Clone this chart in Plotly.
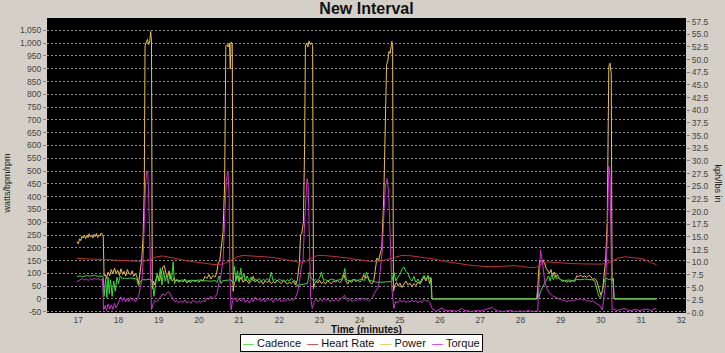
import plotly.graph_objects as go

# ---------------- data (time in minutes, value) ----------------
power_samples = [
    (16.96, 224), (17.00, 215), (17.03, 235), (17.06, 228), (17.09, 245), (17.12, 238), (17.15, 250),
    (17.18, 236), (17.21, 248), (17.24, 240), (17.27, 255), (17.30, 242), (17.33, 250), (17.36, 238),
    (17.39, 252), (17.42, 244), (17.45, 256), (17.48, 240), (17.51, 250), (17.54, 246), (17.57, 258),
    (17.60, 250), (17.62, 245), (17.64, 90), (17.67, 95), (17.70, 80), (17.74, 105), (17.78, 90),
    (17.82, 115), (17.86, 98), (17.90, 120), (17.94, 100), (17.98, 112), (18.02, 92), (18.06, 118),
    (18.10, 96), (18.14, 108), (18.18, 90), (18.22, 115), (18.26, 100), (18.30, 95), (18.34, 110),
    (18.38, 88), (18.42, 100), (18.46, 85), (18.50, 60), (18.54, 110), (18.58, 160), (18.61, 240),
    (18.64, 420), (18.66, 990), (18.69, 1000), (18.72, 1015), (18.75, 995), (18.78, 1010), (18.80, 1046),
    (18.82, 1005), (18.84, 40), (18.87, 70), (18.90, 55), (18.94, 80), (18.98, 90), (19.02, 70),
    (19.06, 95), (19.10, 125), (19.14, 130), (19.18, 100), (19.22, 85), (19.26, 110), (19.30, 78),
    (19.34, 70), (19.38, 82), (19.42, 68), (19.46, 75), (19.50, 65), (19.55, 72), (19.60, 66),
    (19.65, 78), (19.70, 62), (19.75, 70), (19.80, 64), (19.85, 74), (19.90, 68), (19.95, 72),
    (20.00, 65), (20.05, 76), (20.10, 70), (20.15, 88), (20.20, 80), (20.25, 95), (20.30, 78),
    (20.35, 92), (20.40, 85), (20.44, 100), (20.48, 140), (20.52, 150), (20.55, 200), (20.60, 260),
    (20.64, 450), (20.67, 990), (20.70, 995), (20.73, 985), (20.76, 1000), (20.78, 900), (20.80, 1005),
    (20.83, 1000), (20.85, 30), (20.88, 60), (20.92, 75), (20.96, 90), (21.00, 70), (21.05, 85),
    (21.10, 65), (21.15, 78), (21.20, 70), (21.25, 60), (21.30, 72), (21.35, 88), (21.40, 66),
    (21.45, 75), (21.50, 62), (21.55, 70), (21.60, 58), (21.65, 72), (21.70, 64), (21.75, 70),
    (21.80, 60), (21.85, 68), (21.90, 62), (21.95, 74), (22.00, 66), (22.05, 60), (22.10, 72),
    (22.15, 64), (22.20, 58), (22.25, 66), (22.30, 60), (22.35, 70), (22.40, 55), (22.45, 75),
    (22.50, 140), (22.53, 250), (22.56, 257), (22.60, 300), (22.63, 600), (22.65, 990), (22.68, 1000),
    (22.71, 985), (22.74, 1008), (22.77, 995), (22.80, 1002), (22.83, 990), (22.85, 40), (22.88, 60),
    (22.92, 70), (22.96, 62), (23.00, 74), (23.05, 60), (23.10, 68), (23.15, 58), (23.20, 72),
    (23.25, 64), (23.30, 60), (23.35, 70), (23.40, 66), (23.45, 72), (23.50, 64), (23.55, 70),
    (23.60, 100), (23.65, 72), (23.70, 58), (23.75, 72), (23.80, 64), (23.85, 78), (23.90, 68),
    (23.95, 74), (24.00, 66), (24.05, 72), (24.10, 95), (24.15, 80), (24.20, 90), (24.25, 66),
    (24.30, 58), (24.35, 70), (24.40, 120), (24.43, 160), (24.47, 150), (24.50, 170), (24.55, 200),
    (24.60, 400), (24.64, 700), (24.67, 916), (24.70, 930), (24.73, 968), (24.76, 960), (24.80, 1007),
    (24.82, 990), (24.84, 30), (24.88, 55), (24.92, 65), (24.96, 50), (25.00, 62), (25.05, 45),
    (25.10, 58), (25.15, 70), (25.20, 55), (25.25, 62), (25.30, 48), (25.35, 60), (25.40, 52),
    (25.45, 66), (25.50, 58), (25.55, 72), (25.60, 85), (25.65, 70), (25.70, 92), (25.74, 60),
    (25.78, 80), (25.80, 0), (26.50, 0), (27.00, 0), (27.50, 0), (28.00, 0), (28.42, 0),
    (28.45, 100), (28.48, 150), (28.52, 145), (28.56, 152), (28.60, 140), (28.64, 120), (28.68, 110),
    (28.72, 100), (28.76, 115), (28.80, 90), (28.84, 105), (28.88, 85), (28.92, 95), (28.96, 80),
    (29.00, 75), (29.05, 68), (29.10, 72), (29.15, 65), (29.20, 70), (29.25, 66), (29.30, 72),
    (29.35, 68), (29.40, 90), (29.45, 88), (29.50, 92), (29.55, 86), (29.60, 90), (29.65, 84),
    (29.70, 92), (29.75, 88), (29.80, 76), (29.85, 80), (29.90, 70), (29.95, 40), (30.00, 15),
    (30.04, 30), (30.08, 80), (30.12, 150), (30.16, 300), (30.20, 910), (30.23, 922), (30.26, 880),
    (30.28, 70), (30.31, 80), (30.33, 0), (31.39, 0),
]

cadence_samples = [
    (16.96, 88), (17.05, 90), (17.10, 87), (17.20, 91), (17.30, 89), (17.40, 92), (17.50, 88),
    (17.58, 90), (17.62, 85), (17.64, 10), (17.68, 80), (17.71, 5), (17.74, 85), (17.77, 20),
    (17.80, 75), (17.84, 10), (17.88, 70), (17.92, 30), (17.96, 85), (18.00, 60), (18.04, 90),
    (18.10, 78), (18.15, 82), (18.20, 80), (18.30, 82), (18.40, 80), (18.45, 78), (18.50, 50),
    (18.55, 70), (18.60, 75), (18.70, 75), (18.80, 78), (18.85, 60), (18.88, 10), (18.92, 60),
    (18.96, 100), (19.00, 70), (19.04, 120), (19.08, 55), (19.12, 110), (19.16, 70), (19.20, 90),
    (19.24, 60), (19.28, 100), (19.32, 75), (19.36, 145), (19.39, 60), (19.43, 75), (19.50, 72),
    (19.60, 74), (19.70, 70), (19.80, 73), (19.90, 72), (20.00, 74), (20.10, 70), (20.20, 71),
    (20.30, 69), (20.40, 72), (20.45, 65), (20.50, 90), (20.55, 60), (20.60, 72), (20.70, 73),
    (20.80, 75), (20.85, 60), (20.88, 128), (20.92, 70), (20.96, 110), (21.00, 65), (21.04, 120),
    (21.08, 80), (21.12, 100), (21.16, 70), (21.20, 90), (21.25, 68), (21.30, 85), (21.35, 70),
    (21.40, 78), (21.45, 72), (21.50, 80), (21.55, 70), (21.60, 76), (21.65, 72), (21.70, 80),
    (21.75, 70), (21.80, 105), (21.84, 72), (21.90, 76), (21.95, 70), (22.00, 78), (22.05, 72),
    (22.10, 74), (22.15, 68), (22.20, 76), (22.25, 70), (22.30, 80), (22.35, 72), (22.40, 70),
    (22.45, 50), (22.50, 55), (22.60, 58), (22.70, 60), (22.75, 106), (22.80, 80), (22.85, 70),
    (22.90, 76), (22.95, 72), (23.00, 80), (23.05, 106), (23.10, 72), (23.15, 76), (23.20, 70),
    (23.30, 78), (23.40, 72), (23.50, 75), (23.58, 80), (23.63, 119), (23.67, 74), (23.75, 70),
    (23.85, 76), (23.95, 72), (24.05, 78), (24.12, 72), (24.17, 105), (24.22, 74), (24.30, 70),
    (24.40, 66), (24.50, 65), (24.60, 66), (24.70, 67), (24.80, 68), (24.85, 106), (24.90, 70),
    (24.95, 85), (25.00, 95), (25.05, 115), (25.10, 125), (25.15, 108), (25.20, 100), (25.25, 80),
    (25.30, 70), (25.35, 88), (25.40, 65), (25.45, 78), (25.50, 62), (25.55, 80), (25.60, 92),
    (25.65, 75), (25.70, 90), (25.74, 78), (25.77, 85), (25.79, 0), (26.50, 0), (27.00, 0),
    (27.50, 0), (28.00, 0), (28.40, 0), (28.43, 40), (28.46, 5), (28.50, 30), (28.55, 45),
    (28.60, 60), (28.65, 75), (28.70, 90), (28.74, 70), (28.78, 95), (28.82, 75), (28.86, 92),
    (28.90, 78), (28.95, 85), (29.00, 75), (29.10, 72), (29.20, 74), (29.30, 72), (29.40, 76),
    (29.50, 75), (29.60, 78), (29.70, 76), (29.80, 74), (29.85, 70), (29.90, 40), (29.95, 10),
    (30.00, 5), (30.05, 40), (30.10, 78), (30.15, 80), (30.20, 75), (30.25, 78), (30.30, 75),
    (30.33, 0), (31.39, 0),
]

heart_rate_samples = [
    (16.96, 158), (17.10, 158), (17.30, 156), (17.50, 155), (17.70, 153), (17.90, 151), (18.10, 150),
    (18.30, 149), (18.50, 147), (18.65, 148), (18.80, 155), (18.95, 165), (19.10, 168), (19.30, 163),
    (19.50, 156), (19.70, 149), (19.90, 144), (20.10, 140), (20.30, 136), (20.45, 134), (20.60, 137),
    (20.80, 150), (20.95, 165), (21.10, 170), (21.30, 169), (21.50, 166), (21.70, 164), (21.90, 161),
    (22.10, 155), (22.30, 148), (22.50, 143), (22.65, 146), (22.80, 160), (22.95, 170), (23.10, 170),
    (23.30, 167), (23.50, 164), (23.70, 160), (23.90, 155), (24.10, 150), (24.34, 146), (24.55, 149),
    (24.75, 158), (24.90, 166), (25.05, 170), (25.25, 169), (25.45, 165), (25.65, 162), (25.85, 156),
    (26.05, 149), (26.25, 143), (26.45, 138), (26.65, 134), (26.85, 130), (27.05, 127), (27.25, 126),
    (27.45, 127), (27.65, 129), (27.85, 130), (28.05, 127), (28.25, 122), (28.40, 124), (28.55, 140),
    (28.65, 145), (28.85, 142), (29.05, 139), (29.30, 138), (29.55, 137), (29.80, 135), (30.00, 136),
    (30.15, 139), (30.30, 148), (30.45, 160), (30.60, 165), (30.80, 162), (31.00, 158), (31.15, 150),
    (31.30, 140), (31.39, 133),
]

# torque is read against the right-hand (kph / lbs in) axis
torque_samples = [
    (16.96, 6.15), (17.00, 6.3), (17.05, 6.6), (17.10, 6.8), (17.15, 6.5), (17.20, 6.7), (17.25, 6.4),
    (17.30, 6.8), (17.35, 6.5), (17.40, 6.9), (17.45, 6.6), (17.50, 6.8), (17.55, 6.5), (17.60, 6.7),
    (17.63, 0.6), (17.67, 1.5), (17.70, 0.5), (17.74, 1.8), (17.78, 0.8), (17.82, 1.6), (17.86, 0.7),
    (17.90, 1.9), (17.94, 1.0), (17.98, 1.7), (18.02, 2.2), (18.06, 3.2), (18.10, 2.4), (18.14, 3.0),
    (18.18, 2.2), (18.22, 2.9), (18.26, 2.3), (18.30, 3.1), (18.34, 2.5), (18.38, 2.8), (18.42, 2.2),
    (18.46, 2.9), (18.50, 3.3), (18.54, 5.0), (18.58, 6.3), (18.61, 10.0), (18.64, 18.4), (18.67, 25.0),
    (18.70, 28.0), (18.73, 27.5), (18.76, 20.0), (18.79, 8.0), (18.82, 0.6), (18.86, 1.8), (18.90, 2.5),
    (18.95, 2.2), (19.00, 2.8), (19.05, 3.3), (19.10, 3.8), (19.15, 3.4), (19.20, 4.0), (19.25, 4.2),
    (19.30, 3.5), (19.35, 2.6), (19.40, 2.2), (19.45, 2.5), (19.50, 2.0), (19.55, 2.4), (19.60, 2.1),
    (19.65, 2.6), (19.70, 2.0), (19.75, 2.3), (19.80, 1.9), (19.85, 2.5), (19.90, 2.2), (19.95, 2.0),
    (20.00, 2.4), (20.05, 2.1), (20.10, 2.5), (20.15, 2.2), (20.20, 3.0), (20.25, 2.7), (20.30, 3.3),
    (20.35, 2.8), (20.40, 3.2), (20.45, 3.8), (20.50, 6.0), (20.55, 7.5), (20.60, 10.5), (20.64, 18.0),
    (20.68, 26.0), (20.72, 28.0), (20.75, 24.0), (20.77, 8.0), (20.80, 0.6), (20.84, 2.5), (20.90, 3.0),
    (20.95, 2.2), (21.00, 2.8), (21.05, 2.3), (21.10, 3.0), (21.15, 2.1), (21.20, 2.6), (21.25, 2.0),
    (21.30, 2.7), (21.35, 2.3), (21.40, 3.1), (21.45, 2.5), (21.50, 2.9), (21.55, 2.3), (21.60, 2.8),
    (21.65, 2.2), (21.70, 3.0), (21.75, 2.5), (21.80, 2.7), (21.85, 2.1), (21.90, 2.9), (21.95, 2.4),
    (22.00, 2.8), (22.05, 2.2), (22.10, 2.6), (22.15, 2.3), (22.20, 2.9), (22.25, 2.4), (22.30, 2.7),
    (22.35, 2.5), (22.40, 3.0), (22.45, 4.0), (22.50, 6.0), (22.55, 9.1), (22.59, 10.4), (22.63, 18.0),
    (22.66, 24.0), (22.69, 26.5), (22.72, 25.0), (22.75, 15.0), (22.78, 3.0), (22.82, 0.9), (22.87, 2.3),
    (22.92, 2.8), (22.97, 2.2), (23.02, 2.7), (23.07, 2.3), (23.12, 3.0), (23.17, 2.5), (23.22, 2.8),
    (23.27, 2.2), (23.32, 2.6), (23.37, 2.4), (23.42, 2.9), (23.47, 2.3), (23.52, 2.7), (23.57, 3.1),
    (23.62, 3.5), (23.67, 2.6), (23.72, 2.3), (23.77, 2.8), (23.82, 2.2), (23.87, 2.6), (23.92, 2.4),
    (23.97, 2.9), (24.02, 2.5), (24.07, 3.0), (24.12, 2.6), (24.17, 2.8), (24.22, 2.3), (24.27, 2.7),
    (24.32, 3.0), (24.37, 4.0), (24.42, 4.5), (24.47, 5.3), (24.52, 9.1), (24.56, 12.0), (24.60, 19.0),
    (24.64, 25.0), (24.68, 26.5), (24.72, 24.0), (24.76, 15.0), (24.80, 5.0), (24.85, 0.9), (24.90, 2.3),
    (24.95, 2.0), (25.00, 2.6), (25.05, 2.2), (25.10, 2.5), (25.15, 2.0), (25.20, 2.4), (25.25, 2.1),
    (25.30, 2.6), (25.35, 2.2), (25.40, 2.5), (25.45, 2.0), (25.50, 2.4), (25.55, 2.1), (25.60, 2.7),
    (25.65, 2.3), (25.70, 2.5), (25.75, 2.0), (25.80, 0.9), (25.85, 0.6), (25.90, 0.3), (26.00, 0.8),
    (26.05, 1.0), (26.10, 0.6), (26.20, 0.4), (26.30, 0.5), (26.40, 0.3), (26.50, 0.7), (26.55, 0.9),
    (26.60, 0.5), (26.70, 0.4), (26.80, 0.3), (26.90, 0.5), (27.00, 0.4), (27.10, 0.6), (27.20, 0.9),
    (27.30, 1.1), (27.35, 0.7), (27.45, 0.4), (27.60, 0.3), (27.70, 0.5), (27.80, 0.4), (27.90, 0.3),
    (28.00, 0.4), (28.10, 0.3), (28.20, 0.5), (28.30, 0.3), (28.40, 0.4), (28.43, 0.3), (28.46, 5.0),
    (28.50, 12.4), (28.53, 11.0), (28.57, 8.0), (28.61, 5.9), (28.66, 4.8), (28.72, 3.9), (28.80, 3.4),
    (28.88, 3.0), (28.95, 2.8), (29.00, 2.7), (29.05, 2.4), (29.10, 2.6), (29.15, 2.2), (29.20, 2.5),
    (29.25, 2.3), (29.30, 2.6), (29.35, 2.4), (29.40, 2.8), (29.45, 2.6), (29.50, 2.9), (29.55, 2.5),
    (29.60, 2.7), (29.65, 2.3), (29.70, 2.5), (29.75, 2.2), (29.80, 2.4), (29.85, 2.0), (29.90, 1.8),
    (29.95, 1.6), (30.00, 1.2), (30.04, 0.6), (30.08, 3.0), (30.12, 6.0), (30.15, 12.0), (30.18, 22.0),
    (30.20, 29.0), (30.23, 27.0), (30.25, 15.0), (30.28, 0.6), (30.33, 0.8), (30.40, 0.5), (30.50, 0.7),
    (30.60, 0.9), (30.65, 0.6), (30.75, 0.5), (30.85, 0.7), (30.95, 0.5), (31.05, 0.6), (31.15, 0.8),
    (31.25, 0.5), (31.35, 0.9), (31.39, 0.6),
]

x_ticks = list(range(17, 33))
left_ticks = list(range(-50, 1051, 50))
left_labels = [f"{v:,}" for v in left_ticks]
right_ticks = [i * 2.5 for i in range(24)]
right_labels = [f"{v:.1f}" for v in right_ticks]

series_names = ["Cadence", "Heart Rate", "Power", "Torque"]
series_colors = {"Cadence": "#3CDC3C", "Heart Rate": "#CC2E2E", "Power": "#EBC04A", "Torque": "#D22FD2"}

# ---------------- figure ----------------
def split(samples):
    return [s[0] for s in samples], [s[1] for s in samples]

fig = go.Figure()
for name, samples, axis in [("Power", power_samples, "y"),
                            ("Heart Rate", heart_rate_samples, "y"),
                            ("Cadence", cadence_samples, "y"),
                            ("Torque", torque_samples, "y2")]:
    t, v = split(samples)
    fig.add_trace(go.Scatter(x=t, y=v, name=name, mode="lines", yaxis=axis,
                             line=dict(color=series_colors[name], width=1),
                             showlegend=False))

FONT = "Liberation Sans, Arial, sans-serif"
tickfont = dict(family=FONT, size=8.5, color="#444444")

fig.update_layout(
    width=725, height=353,
    margin=dict(l=47, r=39, t=18, b=40),
    paper_bgcolor="#D4D0C8", plot_bgcolor="#000000",
    font=dict(family=FONT, color="#222222"),
    title=dict(text="<b>New Interval</b>", x=0.5, xref="paper", xanchor="center",
               y=1 - 8 / 353, yref="container", yanchor="middle",
               font=dict(family=FONT, size=16, color="#111111")),
    xaxis=dict(range=[16.22, 32.12], tickvals=x_ticks, showgrid=False, zeroline=False,
               ticks="", ticklabelstandoff=0, tickfont=tickfont,
               showline=False, fixedrange=True),
    yaxis=dict(range=[-55, 1098.5], tickvals=left_ticks, ticktext=left_labels,
               showgrid=True, gridcolor="#8C8C8C", gridwidth=1, griddash="2px,2px",
               zeroline=False, ticks="outside", ticklen=3, tickcolor="#808080",
               tickfont=tickfont, showline=False),
    yaxis2=dict(range=[0, 58.2], tickvals=right_ticks, ticktext=right_labels,
                overlaying="y", side="right", showgrid=False, zeroline=False,
                ticks="outside", ticklen=3, tickcolor="#808080", tickfont=tickfont,
                showline=False),
)

legend_text = "\u00a0\u00a0".join(
    f'<span style="color:{series_colors[n]}">\u2014</span>\u00a0{n}' for n in series_names)

fig.add_annotation(text=legend_text, xref="paper", yref="paper", x=0.492, y=-0.1017,
                   xanchor="center", yanchor="middle", showarrow=False,
                   font=dict(family=FONT, size=11, color="#111111"),
                   bgcolor="#FFFFFF", bordercolor="#000000", borderwidth=1, borderpad=2)
fig.add_annotation(text="<b>Time (minutes)</b>", xref="paper", yref="paper", x=0.5,
                   y=(313 - 329.5) / 295,
                   xanchor="center", yanchor="middle", showarrow=False,
                   font=dict(family=FONT, size=10, color="#111111"))
fig.add_annotation(text="watts/bpm/rpm", xref="paper", yref="paper", x=-0.0621, y=0.4397,
                   xanchor="center", yanchor="middle", showarrow=False, textangle=-90,
                   font=dict(family=FONT, size=9, color="#222222"))
fig.add_annotation(text="kph/lbs in", xref="paper", yref="paper", x=(718.5 - 47) / 639, y=0.4407,
                   xanchor="center", yanchor="middle", showarrow=False, textangle=90,
                   font=dict(family=FONT, size=9, color="#222222"))

fig.write_html("out.html")
